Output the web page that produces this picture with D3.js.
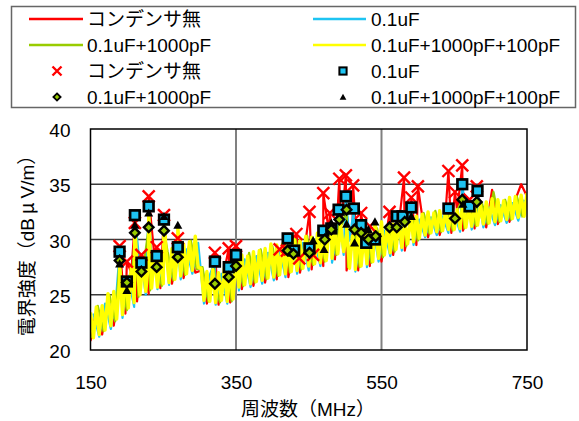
<!DOCTYPE html>
<html><head><meta charset="utf-8">
<script src="https://cdn.jsdelivr.net/npm/d3@7"></script>
<style>body{margin:0;background:#fff}svg{display:block}</style>
</head><body><svg id="c" width="579" height="421"></svg>
<script>
const xTicks = [150, 350, 550, 750];
const yTicks = [20, 25, 30, 35, 40];
const seriesNames = ["コンデンサ無", "0.1uF", "0.1uF+1000pF", "0.1uF+1000pF+100pF"];
const seriesColors = ["#FF0000", "#1EC4F2", "#99CC00", "#FFFF00"];
const xTitle = "周波数（MHz）";
const yTitleParts = ["電界強度（dB\u2009", "μ", "\u2009V/m）"];

// measured traces (dBμV/m), sampled on a regular frequency grid
const redStart = 150, redStep = 8;
const redValues = [20.8,23.6,21.4,24.6,22.2,26.0,23.3,27.0,24.4,27.8,25.1,28.4,25.6,28.7,26.0,29.0,26.5,29.6,27.0,27.2,
24.2,27.0,24.1,27.2,24.3,28.2,25.5,28.5,25.8,28.8,26.1,29.1,26.4,29.4,26.6,29.7,27.0,30.0,27.3,30.3,
27.6,30.6,28.2,31.1,27.2,30.1,27.2,30.4,27.6,30.8,28.0,31.1,28.6,31.5,29.0,31.8,29.5,32.1,30.2,32.3,
30.4,32.4,30.6,32.6,30.8,32.8,31.0,33.0,31.1,34.5,31.4,33.4,31.6,33.6,35.0,33.9];
const blueStart = 154, blueStep = 8;
const blueValues = [23.3,21.2,24.2,21.9,25.4,22.9,26.6,23.9,27.4,25.0,28.0,25.5,28.3,25.9,28.7,26.4,29.1,26.9,29.7,24.2,
26.8,24.1,26.9,24.2,27.0,25.4,28.2,25.7,28.5,26.0,28.8,26.3,29.1,26.6,29.4,26.9,29.7,27.2,30.0,27.6,
30.2,27.9,30.8,28.6,29.9,27.1,30.1,27.5,30.4,28.0,30.8,28.5,31.1,29.0,31.5,29.5,31.8,30.2,32.0,30.4,
32.1,30.6,32.3,30.7,32.5,30.9,32.7,31.1,32.9,31.3,33.1,31.5,33.3,31.7,33.6];
const greenStart = 152, greenStep = 8;
const greenValues = [21.1,24.0,21.7,25.0,22.6,26.4,23.6,27.5,24.8,28.1,25.4,28.6,25.8,28.9,26.3,29.4,26.8,29.9,27.3,27.5,
24.4,27.3,24.3,27.5,24.4,28.5,25.8,28.8,26.1,29.1,26.4,29.4,26.7,29.7,27.0,30.0,27.3,30.3,27.7,30.6,
28.0,30.9,28.6,31.4,27.5,30.4,27.5,30.7,27.9,31.0,28.4,31.4,28.9,31.8,29.4,32.1,29.9,32.4,30.5,32.6,
30.7,32.7,30.8,32.9,31.0,33.1,31.2,33.3,31.4,34.3,31.6,33.6,31.8,33.9,32.0];
const yellowStart = 150, yellowStep = 4;
const yellowValues = [23.4,21.1,23.9,21.4,24.0,21.8,25.1,22.2,25.3,22.8,26.4,23.2,26.6,23.8,27.4,24.3,27.6,25.0,28.1,25.3,
28.2,25.6,28.7,25.7,28.5,26.0,28.9,26.1,29.2,26.4,29.1,26.7,29.6,26.9,29.8,27.2,30.3,27.5,27.4,24.5,
27.1,24.4,27.3,24.3,27.0,24.5,27.4,24.4,27.2,24.6,28.4,25.7,28.6,25.9,28.5,26.0,28.9,26.2,29.0,26.3,
29.2,26.5,29.6,26.6,29.5,26.8,29.6,26.9,29.7,27.1,30.0,27.2,29.9,27.4,30.3,27.6,30.2,27.8,30.6,27.9,
30.5,28.1,30.9,28.3,31.0,28.7,31.3,28.9,30.5,27.4,30.3,27.3,30.6,27.6,30.5,27.8,30.8,28.0,31.0,28.3,
31.6,28.6,31.3,28.8,31.4,29.1,31.7,29.3,31.8,29.6,32.0,29.8,32.1,30.1,32.3,30.4,32.5,30.6,32.4,30.7,
32.6,30.8,32.5,30.9,32.8,30.9,32.7,31.0,33.6,31.1,32.9,31.2,33.2,31.3,33.1,31.4,33.4,31.5,33.7,31.6,
33.6,31.7,33.5,31.8,33.8,31.9,33.9,32.0,34.0,32.1,34.2];

// peak readings shown with markers: [MHz, dBμV/m]
const redPeaks = [[190,29.4],[200,28.0],[211,31.5],[220,28.6],[230,33.9],[241,29.3],[251,32.2],[270,30.1],[321,28.8],[340,29.2],[350,29.4],[410,29.1],[420,29.0],[433,30.5],[437,28.3],[451,32.5],[456,28.6],[470,34.2],[479,32.4],[492,35.5],[501,35.8],[511,34.9],[522,32.4],[534,31.2],[561,32.5],[581,35.6],[591,33.8],[600,34.8],[642,36.2],[651,34.3],[661,36.7],[671,33.6],[681,34.8]];
const bluePeaks = [[190,28.9],[200,26.2],[211,32.2],[220,27.9],[230,33.0],[241,28.5],[251,31.8],[270,29.3],[321,28.0],[340,27.5],[350,28.6],[421,30.1],[430,29.0],[451,29.2],[470,30.8],[481,31.0],[491,32.7],[501,33.9],[512,32.8],[522,31.3],[529,29.7],[541,30.0],[571,32.1],[579,32.1],[591,32.9],[642,32.8],[661,35.0],[671,33.0],[682,34.4]];
const greenPeaks = [[190,28.1],[200,26.1],[211,30.6],[220,27.1],[230,31.1],[241,27.5],[251,30.8],[270,28.4],[321,26.0],[340,26.6],[350,27.6],[421,29.0],[429,28.7],[451,28.8],[472,30.0],[481,30.9],[492,31.8],[502,32.7],[513,30.9],[522,30.6],[532,30.0],[542,30.3],[561,31.1],[571,31.1],[582,31.6],[651,31.9],[661,33.6],[681,33.4]];
const yellowPeaks = [[190,27.8],[200,25.4],[211,31.3],[230,32.4],[251,32.1],[270,31.3],[456,29.9],[471,29.1],[481,31.5],[502,31.4],[513,29.7],[532,30.9],[541,31.6],[591,32.1],[662,33.2]];

const markerTypes = ["cross", "square", "diamond", "triangle"];

const FONT = '"Liberation Sans", Arial, "Noto Sans CJK JP", sans-serif';
const CJK = '"Noto Sans CJK JP", sans-serif';
const svg = d3.select("#c");
const L = 90.5, R = 527, T = 129, B = 350;
const x = d3.scaleLinear().domain([150, 750]).range([L, R]);
const y = d3.scaleLinear().domain([20, 40]).range([B, T]);

svg.append("defs").append("clipPath").attr("id", "clip")
  .append("rect").attr("x", L).attr("y", T - 10).attr("width", R - L).attr("height", B - T + 10);

// gridlines
svg.append("g").selectAll("line").data(yTicks.filter(v => v > 20 && v < 40)).join("line")
  .attr("x1", L).attr("x2", R).attr("y1", d => y(d)).attr("y2", d => y(d))
  .attr("stroke", "#3a3a3a").attr("stroke-width", 1.5);
svg.append("g").selectAll("line").data(xTicks.filter(v => v > 150 && v < 750)).join("line")
  .attr("y1", T).attr("y2", B).attr("x1", d => x(d)).attr("x2", d => x(d))
  .attr("stroke", "#808080").attr("stroke-width", 2);

// lines
function build(start, step, vals, peaks) {
  const pts = vals.map((v, i) => [start + i * step, v]).concat(peaks);
  return pts.sort((a, b) => a[0] - b[0]);
}
const lineData = [
  build(redStart, redStep, redValues, redPeaks),
  build(blueStart, blueStep, blueValues, bluePeaks),
  build(greenStart, greenStep, greenValues, greenPeaks),
  build(yellowStart, yellowStep, yellowValues, yellowPeaks)
];
const lineWidths = [2.2, 2.2, 2.2, 3.4];
const line = d3.line().x(d => x(d[0])).y(d => y(d[1]));
const lg = svg.append("g").attr("clip-path", "url(#clip)");
lineData.forEach((d, i) => {
  lg.append("path").attr("d", line(d)).attr("fill", "none")
    .attr("stroke", seriesColors[i]).attr("stroke-width", lineWidths[i]).attr("stroke-linejoin", "round");
});

// frame
svg.append("rect").attr("x", L).attr("y", T).attr("width", R - L).attr("height", B - T)
  .attr("fill", "none").attr("stroke", "#000").attr("stroke-width", 1.5);

// markers
function marker(g, type, cx, cy, s) {
  if (type === "cross") {
    g.append("path").attr("d", `M${cx - s},${cy - s}L${cx + s},${cy + s}M${cx - s},${cy + s}L${cx + s},${cy - s}`)
      .attr("stroke", "#FF0000").attr("stroke-width", 2.4).attr("fill", "none");
  } else if (type === "square") {
    const h = s * 0.8;
    g.append("rect").attr("x", cx - h).attr("y", cy - h).attr("width", 2 * h).attr("height", 2 * h)
      .attr("fill", "#1EC4F2").attr("stroke", "#000").attr("stroke-width", s * 0.45);
  } else if (type === "diamond") {
    const h = s * 0.8;
    g.append("path").attr("d", `M${cx},${cy - h}L${cx + h},${cy}L${cx},${cy + h}L${cx - h},${cy}Z`)
      .attr("fill", "#99CC00").attr("stroke", "#000").attr("stroke-width", s * 0.4);
  } else {
    const h = s * 0.75;
    g.append("path").attr("d", `M${cx},${cy - h}L${cx + h},${cy + h * 0.8}L${cx - h},${cy + h * 0.8}Z`)
      .attr("fill", "#000");
  }
}
const mg = svg.append("g");
[redPeaks, bluePeaks, greenPeaks, yellowPeaks].forEach((pk, i) => {
  pk.forEach(p => marker(mg, markerTypes[i], x(p[0]), y(p[1]), 6));
});

// axes
const xAxis = svg.append("g").attr("transform", `translate(0,${B})`)
  .call(d3.axisBottom(x).tickValues(xTicks).tickSize(0).tickPadding(26).tickFormat(d3.format("d")));
xAxis.select(".domain").remove();
xAxis.selectAll("text").attr("font-family", FONT).attr("font-size", 19).attr("fill", "#000");
const yAxis = svg.append("g").attr("transform", `translate(${L},0)`)
  .call(d3.axisLeft(y).tickValues(yTicks).tickSize(0).tickPadding(20).tickFormat(d3.format("d")));
yAxis.select(".domain").remove();
yAxis.selectAll("text").attr("font-family", FONT).attr("font-size", 19).attr("fill", "#000").attr("dy", "0.40em");

svg.append("text").attr("x", 308).attr("y", 416).attr("text-anchor", "middle")
  .attr("font-family", FONT).attr("font-size", 19).text(xTitle);
const yt = svg.append("text").attr("transform", "translate(34,241) rotate(-90)").attr("text-anchor", "middle")
  .attr("font-family", FONT).attr("font-size", 19);
yt.append("tspan").text(yTitleParts[0]);
yt.append("tspan").attr("font-family", CJK).text(yTitleParts[1]);
yt.append("tspan").text(yTitleParts[2]);

// legend
const leg = svg.append("g");
leg.append("rect").attr("x", 11.5).attr("y", 6.5).attr("width", 564).attr("height", 101)
  .attr("fill", "#fff").attr("stroke", "#666").attr("stroke-width", 1.5);
const rowsY = [19, 45, 71, 97];
const colLine = [[29, 83], [313, 366]];
const colText = [87, 371];
const colMark = [57, 343];
for (let k = 0; k < 8; k++) {
  const row = Math.floor(k / 2), col = k % 2;
  const si = k % 4;
  const yy = rowsY[row];
  if (k < 4) {
    leg.append("line").attr("x1", colLine[col][0]).attr("x2", colLine[col][1]).attr("y1", yy).attr("y2", yy)
      .attr("stroke", seriesColors[si]).attr("stroke-width", 2.5);
  } else {
    marker(leg, markerTypes[si], colMark[col], yy, 4.5);
  }
  leg.append("text").attr("x", colText[col]).attr("y", yy + 7).attr("font-family", FONT)
    .attr("font-size", 19).text(seriesNames[si]);
}
</script></body></html>
